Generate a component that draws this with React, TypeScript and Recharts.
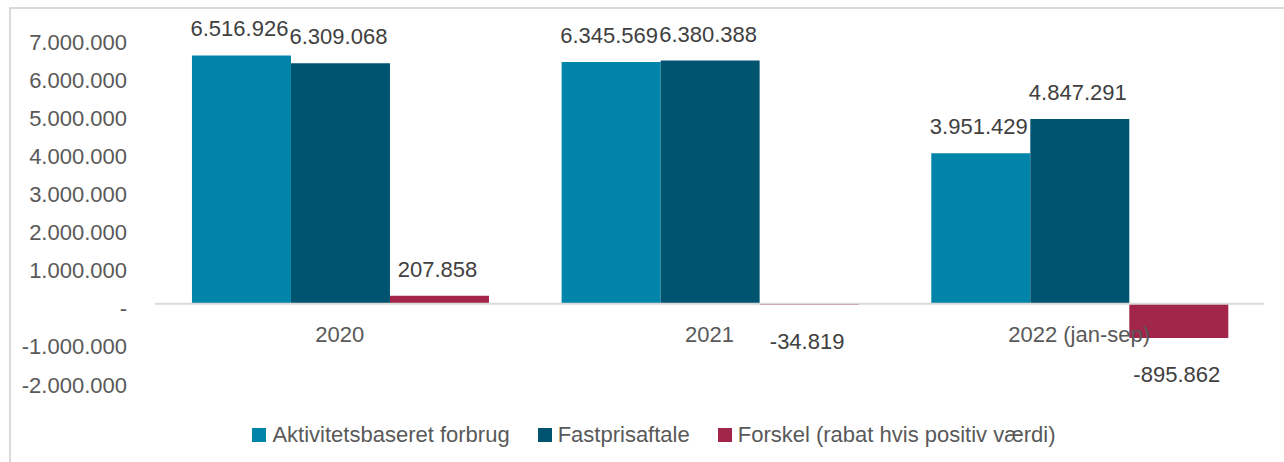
import React from 'react';
import { BarChart, Bar, XAxis, YAxis, ReferenceLine, Legend, LabelList } from 'recharts';

const categories = ['2020', '2021', '2022 (jan-sep)'];
const aktivitetsbaseret = [6516926, 6345569, 3951429];
const fastpris = [6309068, 6380388, 4847291];
const forskel = [207858, -34819, -895862];
const yTicks = [-2000000, -1000000, 0, 1000000, 2000000, 3000000, 4000000, 5000000, 6000000, 7000000];
const seriesNames = ['Aktivitetsbaseret forbrug', 'Fastprisaftale', 'Forskel (rabat hvis positiv værdi)'];
const seriesKeys = ['aktiv', 'fast', 'forskel'];
const colors = ['#0084a9', '#005470', '#a2264a'];

const data = categories.map((c, i) => ({
  name: c,
  aktiv: aktivitetsbaseret[i],
  fast: fastpris[i],
  forskel: forskel[i],
}));

const FONT = '"Liberation Sans", Arial, sans-serif';

const fmt = (v: number) =>
  v === 0 ? '-' : (v < 0 ? '-' : '') + Math.abs(v).toString().replace(/\B(?=(\d{3})+(?!\d))/g, '.');

const YTick = (props: any) => {
  const { x, y, payload } = props;
  return (
    <text x={x} y={y} dy={12.5} textAnchor="end" fill="#595959" fontSize={22} fontFamily={FONT}>
      {fmt(payload.value)}
    </text>
  );
};

const XTick = (props: any) => {
  const { x, y, payload } = props;
  return (
    <text x={x} y={y} dy={-38} textAnchor="middle" fill="#595959" fontSize={22} fontFamily={FONT}>
      {payload.value}
    </text>
  );
};

const ValueLabel = (props: any) => {
  const { x, y, width, height, value } = props;
  const top = Math.min(Number(y), Number(y) + Number(height));
  const bottom = Math.max(Number(y), Number(y) + Number(height));
  const cy = value >= 0 ? top - 27 : bottom + 36;
  return (
    <text x={Number(x) + Number(width) / 2 - 2} y={cy} dy={8} textAnchor="middle" fill="#404040" fontSize={22} fontFamily={FONT}>
      {fmt(value)}
    </text>
  );
};

const LegendContent = () => (
  <div style={{ display: 'flex', justifyContent: 'center', fontFamily: FONT, fontSize: 22, color: '#595959', lineHeight: '26px' }}>
    {seriesNames.map((n, i) => (
      <div key={n} style={{ display: 'flex', alignItems: 'center', marginLeft: i === 0 ? 0 : 28 }}>
        <span style={{ width: 14, height: 14, background: colors[i], marginRight: 6, display: 'inline-block' }} />
        <span>{n}</span>
      </div>
    ))}
  </div>
);

export default function App() {
  return (
    <div style={{ position: 'absolute', left: 0, top: 0, width: 1284, height: 462, background: '#fff', overflow: 'hidden' }}>
      <div
        style={{
          position: 'absolute',
          left: 9,
          top: 7,
          width: 1300,
          height: 480,
          borderLeft: '2px solid #d9d9d9',
          borderTop: '2px solid #d9d9d9',
        }}
      />
      <div style={{ position: 'absolute', left: 0, top: 0 }}>
        <BarChart
          width={1284}
          height={462}
          data={data}
          margin={{ top: 37, right: 20, bottom: 52, left: 0 }}
          barCategoryGap="10%"
          barGap={0}
        >
          <XAxis dataKey="name" height={30} axisLine={false} tickLine={false} tickSize={0} tickMargin={0} tick={<XTick />} interval={0} />
          <YAxis
            width={155}
            domain={[-2000000, 7000000]}
            ticks={yTicks}
            interval={0}
            axisLine={false}
            tickLine={false}
            tickSize={0}
            tickMargin={28}
            tick={<YTick />}
          />
          {seriesKeys.map((k, i) => (
            <Bar key={k} dataKey={k} name={seriesNames[i]} fill={colors[i]} isAnimationActive={false}>
              <LabelList dataKey={k} content={<ValueLabel />} />
            </Bar>
          ))}
          <ReferenceLine y={0} stroke="#d9d9d9" strokeWidth={2} />
          <Legend
            layout="vertical"
            verticalAlign="middle"
            align="center"
            content={<LegendContent />}
            wrapperStyle={{ left: 0, top: 422, width: 1308, height: 26 }}
          />
        </BarChart>
      </div>
    </div>
  );
}
